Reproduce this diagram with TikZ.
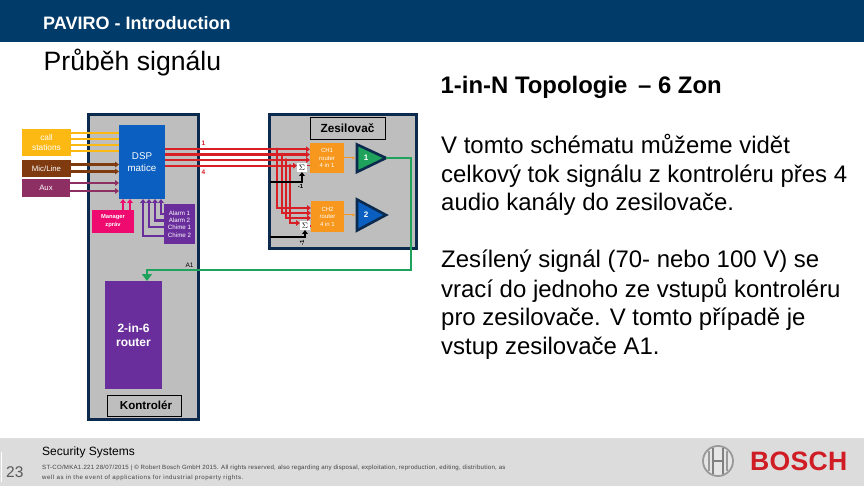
\documentclass[tikz,border=0pt]{standalone}
\usepackage{fontspec}
\setmainfont{Liberation Sans}
\usetikzlibrary{arrows.meta,calc}
\definecolor{navy}{HTML}{003B6A}
\definecolor{dknavy}{HTML}{0B2A4E}
\definecolor{panel}{HTML}{BEBEBE}
\definecolor{foot}{HTML}{DCDCDC}
\definecolor{callc}{HTML}{FDB913}
\definecolor{micc}{HTML}{7F3A10}
\definecolor{auxc}{HTML}{8E2F63}
\definecolor{dspc}{HTML}{0A5FC0}
\definecolor{pinkc}{HTML}{EE0A6E}
\definecolor{purp}{HTML}{6A2E9C}
\definecolor{redc}{HTML}{D81F26}
\definecolor{orangec}{HTML}{F7971D}
\definecolor{greenc}{HTML}{1FA35C}
\definecolor{boschred}{HTML}{D01C24}
\newcommand{\fsz}[1]{\fontsize{#1}{#1}\selectfont}
\tikzset{
 x=1pt,y=-1pt,
 blk/.style={anchor=north west,inner sep=0pt,outer sep=0pt,align=center,text=white},
 panelbox/.style={blk,fill=panel,draw=dknavy,line width=3pt},
 lblbox/.style={blk,text=black,draw=black,line width=.8pt,fill=panel},
 txt/.style={anchor=west,inner sep=0pt,align=left,text=#1},
 txt/.default=black,
 body/.style={anchor=base west,inner sep=0pt,font=\fsz{23.95}},
 wire/.style={line width=2.3pt,draw=#1},
 arr/.style={line width=2.3pt,draw=#1,-{Triangle[length=3.8pt,width=5.4pt]}},
 small/.style={inner sep=0pt,font=\fsz{5.5}},
}
\begin{document}
\begin{tikzpicture}
\useasboundingbox (0,0) rectangle (864,486);
\fill[white] (0,0) rectangle (864,486);
\fill[navy] (0,0) rectangle (864,42.5);
\fill[foot] (0,438) rectangle (864,486);
\node[txt=white,font=\fsz{18}\bfseries] (title) at (43,23.5) {PAVIRO - Introduction};
\node[txt,font=\fsz{26.6}] (sub) at (43.5,63) {Průběh signálu};
\node[txt,font=\fsz{23.9}\bfseries] (head) at (440.5,87) {1-in-N Topologie\, – 6 Zon};

\node[body] (p1a) at (441,154) {V tomto schématu můžeme vidět};
\node[body] (p1b) at (441,182.5) {celkový tok signálu z kontroléru přes 4};
\node[body] (p1c) at (441,211) {audio kanály do zesilovače.};
\node[body] (p2a) at (441,268) {Zesílený signál (70- nebo 100 V) se};
\node[body] (p2b) at (441,297) {vrací do jednoho ze vstupů kontroléru};
\node[body] (p2c) at (441,325.5) {pro zesilovače. V tomto případě je};
\node[body] (p2d) at (441,354) {vstup zesilovače A1.};

% panels
\node[panelbox,minimum width=110pt,minimum height=305pt] (ctrl) at (88.5,114.5) {};
\node[panelbox,minimum width=147pt,minimum height=134pt] (ampb) at (269.5,114.5) {};
\node[lblbox,minimum width=75pt,minimum height=22pt,font=\fsz{11.8}\bfseries] (zes) at (310,117) {Zesilovač};
\node[lblbox,minimum width=74pt,minimum height=21pt,font=\fsz{11.6}\bfseries] (kon) at (107,395) {\hspace{4pt}Kontrolér};

% sources
\node[blk,fill=callc,minimum width=49pt,minimum height=27pt,font=\fsz{8.3}] (call) at (22,129) {call\\[1pt]stations};
\node[blk,fill=micc,minimum width=49pt,minimum height=17pt,font=\fsz{7.8}] (mic) at (22,160) {Mic/Line};
\node[blk,fill=auxc,minimum width=48pt,minimum height=18pt,font=\fsz{7.8}] (aux) at (22,179) {Aux};
\node[blk,fill=dspc,minimum width=46pt,minimum height=74pt,font=\fsz{9.8}] (dsp) at (119,125) {DSP\\[2pt]matice};
\node[blk,fill=pinkc,minimum width=42pt,minimum height=23pt,font=\fsz{5.8}\bfseries] (mgr) at (92,210) {Manager\\[2pt]zpráv};
\node[blk,fill=purp,minimum width=31pt,minimum height=40pt,font=\fsz{6.2}] (alarm) at (164,204) {Alarm 1\\[1pt]Alarm 2\\[1pt]Chime 1\\[1pt]Chime 2};
\node[blk,fill=purp,minimum width=57pt,minimum height=108pt,font=\fsz{12}\bfseries] (rout) at (105,281) {2-in-6\\[2pt]router};

% CH routers
\node[blk,fill=orangec,minimum width=34pt,minimum height=30pt,font=\fsz{6}] (ch1) at (310,143) {CH1\\[1.5pt]router\\[1.5pt]4 in 1};
\node[blk,fill=orangec,minimum width=33pt,minimum height=31pt,font=\fsz{6}] (ch2) at (311,201) {CH2\\[1.5pt]router\\[1.5pt]4 in 1};
\node[blk,fill=white,text=black,minimum width=10pt,minimum height=9pt,font=\fsz{8}\bfseries] (s1) at (297,163) {$\Sigma$};
\node[blk,fill=white,text=black,minimum width=10pt,minimum height=9pt,font=\fsz{8}\bfseries] (s2) at (300,221) {$\Sigma$};

% amps
\coordinate (a1t) at (386,158);\coordinate (a2t) at (386,215);
\draw[dknavy,line width=2.6pt,fill=greenc,line join=miter] (357,144.5) -- (a1t) -- (357,172) -- cycle;
\draw[dknavy,line width=2.6pt,fill=dspc,line join=miter] (357,199.5) -- (a2t) -- (357,230.5) -- cycle;
\node[inner sep=0pt,text=white,font=\fsz{8}\bfseries] (n1) at (366,158) {1};
\node[inner sep=0pt,text=white,font=\fsz{8}\bfseries] (n2) at (366,215) {2};

% source wires
\foreach \y in {133,139,145,151}{\draw[wire=callc] (call.east |- 0,\y) -- (dsp.west |- 0,\y);}
\foreach \y in {164.5,171.5}{\draw[arr=micc] (mic.east |- 0,\y) -- (dsp.west |- 0,\y);}
\foreach \y in {183,191}{\draw[arr=auxc] (aux.east |- 0,\y) -- (dsp.west |- 0,\y);}
\foreach \x in {123,130}{\draw[arr=pinkc] (mgr.north -| \x,0) -- (dsp.south -| \x,0);}
\draw[arr=purp] (alarm.west |- 0,214) -| (161,199);
\draw[arr=purp] (alarm.west |- 0,220.5) -| (155,199);
\draw[arr=purp] (alarm.west |- 0,227) -| (149,199);
\draw[arr=purp] (alarm.west |- 0,236) -| (143,199);

% red wires
\draw[arr=redc] (dsp.east |- 0,149.3) -- (ch1.west |- 0,149.3);
\draw[arr=redc] (dsp.east |- 0,154.5) -- (ch1.west |- 0,154.5);
\draw[arr=redc] (dsp.east |- 0,160) -- (ch1.west |- 0,160);
\draw[arr=redc] (dsp.east |- 0,165.7) -- (s1.west |- 0,165.7);
\draw[arr=redc] (277,149.3) |- (ch2.west |- 0,208);
\draw[arr=redc] (282,154.5) |- (ch2.west |- 0,213);
\draw[arr=redc] (286,160) |- (ch2.west |- 0,218);
\draw[arr=redc] (290,165.7) |- (s2.west |- 0,223);
\draw[wire=redc,line width=1.5pt] (s1.east |- 0,165.7) -- (ch1.west |- 0,165.7);
\draw[wire=redc,line width=1.5pt] (s2.east |- 0,226) -- (ch2.west |- 0,226);
\foreach \x/\y in {277/149.3,282/154.5,286/160,290/165.7}{\fill[redc] (\x,\y) circle (1.8pt);}

% black wires
\draw[arr=black] (ampb.west |- 0,182) -| (s1.south);
\draw[arr=black] (ampb.west |- 0,237) -| (s2.south);
\node[small,font=\fsz{6}\bfseries] (m1) at (300.5,186.5) {-1};
\node[small,rotate=90,font=\fsz{6}\bfseries] (m2) at (302,243) {-1};

% orange wires
\draw[line width=1pt,draw=orangec,-{Triangle[length=2.5pt,width=3pt]}] (ch1.east |- n1) -- (355,158);
\draw[line width=1pt,draw=orangec,-{Triangle[length=2.5pt,width=3pt]}] (ch2.east |- n2) -- (355,215);

% green return
\draw[line width=2.8pt,draw=greenc,-{Triangle[length=7pt,width=10pt]}] (a1t) -- (411,158) -- (411,270) -- (147,270) -- (rout.north -| 147,0);

\node[inner sep=0pt,text=redc,font=\fsz{6.5}\bfseries] (l1) at (203.5,143) {1};
\node[inner sep=0pt,text=redc,font=\fsz{6.5}\bfseries] (l4) at (203.5,172) {4};
\node[inner sep=0pt,font=\fsz{6.5}] (a1) at (189.5,265) {A1};

% footer
\draw[white,line width=.8pt] (1.5,452) -- (1.5,482);
\node[txt,font=\fsz{12}] (sec) at (42,452) {Security Systems};
\node[txt=black!65,font=\fsz{15.5}] (pg) at (6,472.5) {23};
\node[txt=black!75,font=\fsz{6.1},anchor=west] (fine1) at (42,468) {\addfontfeatures{LetterSpace=4}ST-CO/MKA1.221 28/07/2015 | © Robert Bosch GmbH 2015. All rights reserved, also regarding any disposal, exploitation, reproduction, editing, distribution, as};
\node[txt=black!75,font=\fsz{6.1},anchor=west] (fine2) at (42,478) {\addfontfeatures{LetterSpace=9}well as in the event of applications for industrial property rights.};

% logo
\coordinate (lg) at (718,461);
\draw[black!40,line width=1.8pt,fill=black!10] (lg) circle (15pt);
\draw[black!40,line width=1.5pt] (lg) ++(-9,-10) -- ++(0,20);
\draw[black!40,line width=1.5pt] (lg) ++(9,-10) -- ++(0,20);
\draw[black!50,line width=1.5pt] (lg) ++(-5,-13) -- ++(0,26);
\draw[black!50,line width=1.5pt] (lg) ++(5,-13) -- ++(0,26);
\draw[black!50,line width=1.5pt] (lg) ++(-5,0) -- ++(10,0);
\node[inner sep=0pt,text=boschred,font=\fsz{26.6}\bfseries,anchor=west] (bosch) at (750,461) {\addfontfeatures{LetterSpace=1}BOSCH};
\end{tikzpicture}
\end{document}
